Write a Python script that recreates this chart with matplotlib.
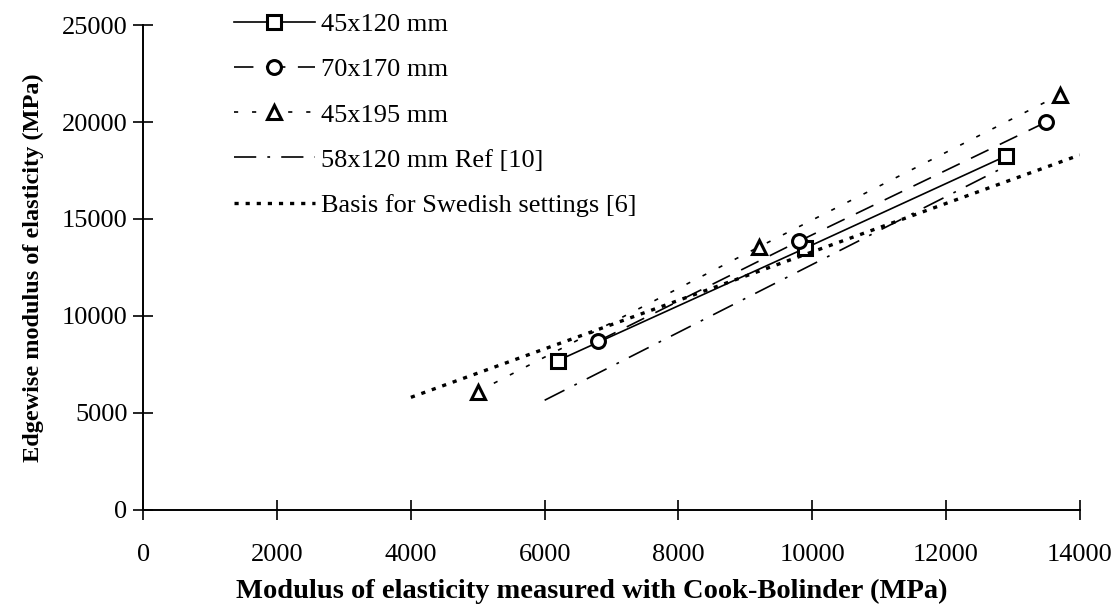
import matplotlib
matplotlib.use("Agg")
import matplotlib.pyplot as plt
from matplotlib.lines import Line2D

# Values (MPa)
cb_45x120 = [6200, 9900, 12900]
e_45x120 = [7700, 13500, 18250]

cb_70x170 = [6800, 9800, 13500]
e_70x170 = [8700, 13850, 20000]

cb_45x195 = [5000, 9200, 13700]
e_45x195 = [6100, 13550, 21400]

ref10_x = [6000, 12800]
ref10_y = [5650, 17550]

swedish_x = [4000, 14000]
swedish_y = [5800, 18300]

x_ticks = [0, 2000, 4000, 6000, 8000, 10000, 12000, 14000]
y_ticks = [0, 5000, 10000, 15000, 20000, 25000]

labels = [
    "45x120 mm",
    "70x170 mm",
    "45x195 mm",
    "58x120 mm Ref [10]",
    "Basis for Swedish settings [6]",
]

plt.rcParams["font.family"] = ["Liberation Serif", "DejaVu Serif"]
plt.rcParams["lines.scale_dashes"] = False

fig = plt.figure(figsize=(11.2, 6.12), dpi=100)
ax = fig.add_axes([0.128, 0.167, 0.836, 0.792])

mk = dict(color="black", markerfacecolor="white", markeredgecolor="black",
          markeredgewidth=2.2, markersize=10)

# 45x120: solid line with squares
ax.plot(cb_45x120, e_45x120, linestyle="-", linewidth=1.2, marker="s", **mk)
# 70x170: long dashes with circles
ax.plot(cb_70x170, e_70x170, linestyle=(0, (14, 9)), linewidth=1.2, marker="o", **mk)
# 45x195: sparse short dashes with triangles
ax.plot(cb_45x195, e_45x195, linestyle=(0, (3, 10)), linewidth=1.2, marker="^", **mk)
# Ref [10]: long dash-dot
ax.plot(ref10_x, ref10_y, color="black", linewidth=1.2, linestyle=(0, (16, 8, 2, 8)))
# Swedish settings: heavy dotted
ax.plot(swedish_x, swedish_y, color="black", linewidth=2.4, linestyle=(0, (3, 5)))

ax.set_xlim(0, 14000)
ax.set_ylim(0, 25000)
ax.set_xticks(x_ticks)
ax.set_yticks(y_ticks)

for side in ["top", "right"]:
    ax.spines[side].set_visible(False)
for side in ["left", "bottom"]:
    ax.spines[side].set_linewidth(1.4)

ax.tick_params(axis="both", direction="inout", length=15, width=1.2, labelsize=19)
ax.tick_params(axis="x", pad=17)
ax.tick_params(axis="y", pad=4)

ax.set_xlabel("Modulus of elasticity measured with Cook-Bolinder (MPa)",
              fontsize=20.5, fontweight="bold")
ax.xaxis.set_label_coords(0.479, -0.142)
ax.set_ylabel("Edgewise modulus of elasticity (MPa)",
              fontsize=17.5, fontweight="bold", labelpad=13)

handles = [
    Line2D([], [], linestyle="-", linewidth=1.2, marker="s", **mk),
    Line2D([], [], linestyle=(0, (14, 9)), linewidth=1.2, marker="o", **mk),
    Line2D([], [], linestyle=(0, (3, 10)), linewidth=1.2, marker="^", **mk),
    Line2D([], [], color="black", linewidth=1.2, linestyle=(0, (16, 8, 2, 8))),
    Line2D([], [], color="black", linewidth=2.4, linestyle=(0, (3, 5))),
]
ax.legend(handles, labels, loc="upper left", bbox_to_anchor=(0.085, 1.047),
          frameon=False, fontsize=19, handlelength=3.1, handletextpad=0.2,
          labelspacing=0.82, borderaxespad=0)

fig.savefig("out.png", dpi=100)
